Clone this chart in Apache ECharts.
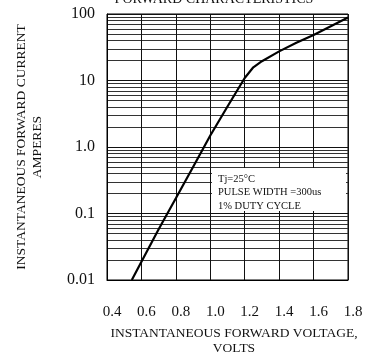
<!DOCTYPE html>
<html><head><meta charset="utf-8">
<script src="https://cdn.jsdelivr.net/npm/echarts@6/dist/echarts.min.js"></script>
<style>html,body{margin:0;padding:0;background:#fff}#c{width:368px;height:357px}</style>
</head><body><div id="c"></div>
<script>
const voltage = [0.544, 0.6, 0.7, 0.8, 0.9, 1.0, 1.1, 1.2, 1.25, 1.3, 1.4, 1.5, 1.6, 1.7, 1.8];
const current = [0.01, 0.0188, 0.058, 0.17, 0.50, 1.49, 4.06, 10.9, 15.8, 19.5, 27.4, 37, 48.5, 65.5, 88.3];
const xTickLabels = ['0.4', '0.6', '0.8', '1.0', '1.2', '1.4', '1.6', '1.8'];
const yTickLabels = ['0.01', '0.1', '1.0', '10', '100'];
const noteLines = ['Tj=25\u00B0C', 'PULSE WIDTH =300us', '1% DUTY CYCLE'];
const titleText = 'FORWARD CHARACTERISTICS';
const xName = 'INSTANTANEOUS FORWARD VOLTAGE,\nVOLTS';
const yName = 'INSTANTANEOUS FORWARD CURRENT\nAMPERES';

const xMin = 0.4, xMax = 1.8, xStep = 0.2;
const yMin = 0.01, yMax = 100;
const FONT = '"Liberation Serif", "Times New Roman", serif';

const chart = echarts.init(document.getElementById('c'), null, {renderer: 'canvas'});
chart.setOption({
  animation: false,
  backgroundColor: '#fff',
  grid: {left: 107, right: 20, top: 14, bottom: 77, show: true, borderColor: '#000', borderWidth: 1,
         containLabel: false, outerBoundsMode: 'none'},
  xAxis: {
    type: 'value', min: xMin, max: xMax, interval: xStep,
    axisLine: {show: true, onZero: false, lineStyle: {color: '#000', width: 1}},
    axisTick: {show: false},
    axisLabel: {
      formatter: v => xTickLabels[Math.round((v - xMin) / xStep)] || '',
      fontFamily: FONT, fontSize: 15, color: '#111', margin: 25, padding: [0, 0, 0, 10]
    },
    splitLine: {show: true, lineStyle: {color: '#111', width: 1}},
    name: xName, nameLocation: 'middle', nameGap: 46,
    nameTextStyle: {fontFamily: FONT, fontSize: 13.5, color: '#111', lineHeight: 15, padding: [0, 0, 0, 13]}
  },
  yAxis: {
    type: 'log', logBase: 10, min: yMin, max: yMax,
    axisLine: {show: true, lineStyle: {color: '#000', width: 1}},
    axisTick: {show: false},
    axisLabel: {
      formatter: v => yTickLabels[Math.round(Math.log10(v) - Math.log10(yMin))] || '',
      fontFamily: FONT, fontSize: 16, color: '#111', margin: 12, padding: [4, 0, 0, 0]
    },
    splitLine: {show: true, lineStyle: {color: '#111', width: 1}},
    minorTick: {show: false, splitNumber: 9},
    minorSplitLine: {show: true, lineStyle: {color: '#333', width: 1}},
    name: yName, nameLocation: 'middle', nameRotate: 90, nameGap: 62,
    nameTextStyle: {fontFamily: FONT, fontSize: 13.5, color: '#111', lineHeight: 16}
  },
  series: [{
    type: 'line',
    data: voltage.map((v, i) => [v, current[i]]),
    showSymbol: false,
    smooth: false,
    lineStyle: {color: '#000', width: 2.2},
    z: 5
  }],
  graphic: [
    {type: 'text', x: 214, y: -1, z: 100,
     style: {text: titleText, align: 'center', verticalAlign: 'middle', fontFamily: FONT, fontSize: 14, fill: '#111'}},
    {type: 'rect', z: 100, shape: {x: 212, y: 168, width: 134, height: 43}, style: {fill: '#fff'}},
    {type: 'text', x: 218, y: 172, z: 101,
     style: {text: noteLines.join('\n'), align: 'left', verticalAlign: 'top', fontFamily: FONT, fontSize: 10.5, lineHeight: 13.5, fill: '#111'}}
  ]
});
</script>
</body></html>
